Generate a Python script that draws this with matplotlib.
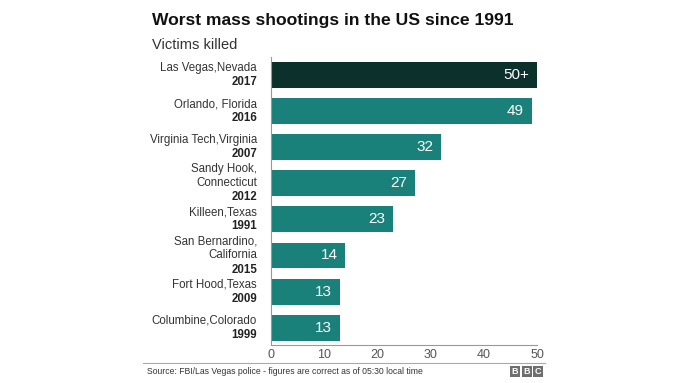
import matplotlib
matplotlib.use("Agg")
import matplotlib.pyplot as plt
from matplotlib.patches import Rectangle
from matplotlib.lines import Line2D

# Data
places = ["Las Vegas,Nevada", "Orlando, Florida", "Virginia Tech,Virginia",
          "Sandy Hook,\nConnecticut", "Killeen,Texas",
          "San Bernardino,\nCalifornia", "Fort Hood,Texas", "Columbine,Colorado"]
years = ["2017", "2016", "2007", "2012", "1991", "2015", "2009", "1999"]
killed = [50, 49, 32, 27, 23, 14, 13, 13]
value_labels = ["50+", "49", "32", "27", "23", "14", "13", "13"]
ticks = [0, 10, 20, 30, 40, 50]

DARK = "#0c302c"
TEAL = "#1a807a"
GREY = "#555555"

plt.rcParams["font.family"] = ["Liberation Sans", "DejaVu Sans"]

fig = plt.figure(figsize=(6.8, 3.83), dpi=100)
ax = fig.add_axes([271 / 680, 1 - 345 / 383, 266 / 680, 288 / 383])

colors = [DARK] + [TEAL] * (len(killed) - 1)
ypos = list(range(len(killed)))
ax.barh(ypos, killed, height=0.72, color=colors)

for y, v, lab in zip(ypos, killed, value_labels):
    ax.text(v - 1.5, y, lab, color="white", fontsize=11,
            ha="right", va="center")

ax.set_xlim(0, 50)
ax.set_ylim(7.48, -0.5)
ax.set_xticks(ticks)
ax.set_xticklabels([str(t) for t in ticks], color=GREY, fontsize=9)
ax.set_yticks([])
ax.tick_params(axis="x", length=0, pad=3)
for s in ["top", "right"]:
    ax.spines[s].set_visible(False)
for s in ["left", "bottom"]:
    ax.spines[s].set_color("#999999")
    ax.spines[s].set_linewidth(0.8)

# category labels: place name line(s) then bold year, block centred on bar
LINE_PT = 10.1
for y, place, yr in zip(ypos, places, years):
    lines = place.split("\n") + [yr]
    n = len(lines)
    for k, line in enumerate(lines):
        off = ((n - 1) / 2 - k) * LINE_PT
        bold = k == n - 1
        ax.annotate(line, xy=(0, y), xycoords=("axes fraction", "data"),
                    xytext=(-10, off), textcoords="offset points",
                    ha="right", va="center", fontsize=8.3,
                    fontweight="bold" if bold else "normal",
                    color="#222222" if bold else "#333333")

fig.text(152 / 680, 1 - 20 / 383, "Worst mass shootings in the US since 1991",
         fontsize=12.6, fontweight="bold", color="#111111", va="center")
fig.text(152 / 680, 1 - 45 / 383, "Victims killed",
         fontsize=10.5, color="#333333", va="center")

fig.add_artist(Line2D([143 / 680, 545 / 680], [1 - 363 / 383] * 2,
                      transform=fig.transFigure, color="#aaaaaa", lw=0.8))
fig.text(147 / 680, 1 - 371 / 383,
         "Source: FBI/Las Vegas police - figures are correct as of 05:30 local time",
         fontsize=6.2, color="#333333", va="center")

# BBC block logo
for i, ch in enumerate("BBC"):
    x0 = 510 + i * 11.5
    fig.add_artist(Rectangle((x0 / 680, 1 - 377 / 383), 10 / 680, 11 / 383,
                             transform=fig.transFigure, color="#6e6e6e", lw=0))
    fig.text((x0 + 5) / 680, 1 - 371.5 / 383, ch, fontsize=6.5,
             fontweight="bold", color="white", ha="center", va="center")

fig.savefig("out.png", dpi=100)
